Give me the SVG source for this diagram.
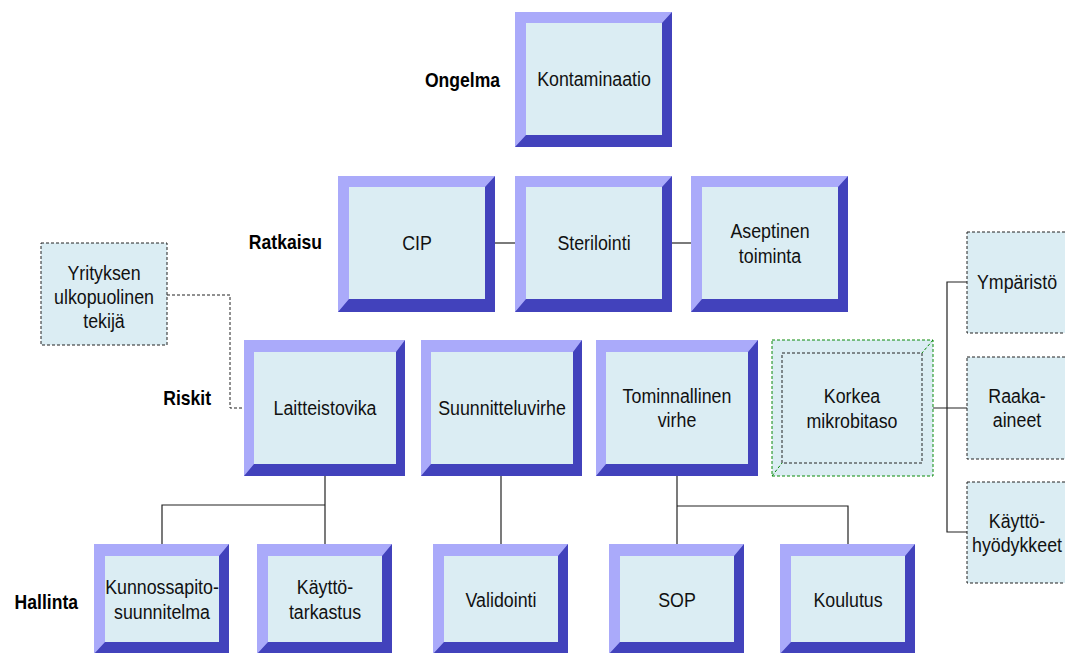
<svg xmlns="http://www.w3.org/2000/svg" width="1065" height="653" viewBox="0 0 1065 653">
<style>
.lt{fill:#AAAAFA}
.dk{fill:#4242BC}
.in{fill:#DBEDF3}
.t{font-family:"Liberation Sans",Arial,sans-serif;font-size:20px;fill:#111;text-anchor:middle}
.lb{font-family:"Liberation Sans",Arial,sans-serif;font-size:19.5px;font-weight:bold;fill:#000;text-anchor:end}
.ds{fill:#DBEDF3;stroke:#222;stroke-width:1;stroke-dasharray:3 2}
.c{fill:none;stroke:#222;stroke-width:1.2}
.cd{fill:none;stroke:#222;stroke-width:1;stroke-dasharray:3 2}
.g{stroke:#0A8A0A;stroke-width:1;stroke-dasharray:3 2}
</style>
<rect width="1065" height="653" fill="#fff"/>
<g id="labels">
<text class="lb" transform="translate(500,87) scale(0.9,1)">Ongelma</text>
<text class="lb" transform="translate(322,249) scale(0.9,1)">Ratkaisu</text>
<text class="lb" transform="translate(211,405) scale(0.9,1)">Riskit</text>
<text class="lb" transform="translate(78,609) scale(0.9,1)">Hallinta</text>
</g>
<g id="connectors">
<line class="c" x1="495" y1="243" x2="515" y2="243" stroke="#555"/>
<line class="c" x1="672" y1="243" x2="691" y2="243"/>
<polyline class="c" points="325,476 325,544"/>
<polyline class="c" points="325,505 162,505 162,544"/>
<polyline class="c" points="501,476 501,544"/>
<polyline class="c" points="677,476 677,544"/>
<polyline class="c" points="677,506 848,506 848,544"/>
<polyline class="cd" points="167,295 230,295 230,408 244,408"/>
<polyline class="c" points="933,408 967,408"/>
<polyline class="c" points="967,282 947,282 947,532 967,532"/>
</g>
<g id="n-kontaminaatio">
<rect class="lt" x="515" y="12" width="157" height="135"/>
<polygon class="dk" points="672,12 672,147 515,147 526,135 662,135 662,23"/>
<rect class="in" x="526" y="23" width="136" height="112"/>
<text class="t" transform="translate(594,86) scale(0.89,1)">Kontaminaatio</text>
</g>
<g id="n-cip">
<rect class="lt" x="338" y="176" width="157" height="136"/>
<polygon class="dk" points="495,176 495,312 338,312 349,299 485,299 485,187"/>
<rect class="in" x="349" y="187" width="136" height="112"/>
<text class="t" transform="translate(417,250) scale(0.89,1)">CIP</text>
</g>
<g id="n-sterilointi">
<rect class="lt" x="515" y="176" width="157" height="136"/>
<polygon class="dk" points="672,176 672,312 515,312 526,299 662,299 662,187"/>
<rect class="in" x="526" y="187" width="136" height="112"/>
<text class="t" transform="translate(594,250) scale(0.89,1)">Sterilointi</text>
</g>
<g id="n-aseptinen">
<rect class="lt" x="691" y="176" width="157" height="136"/>
<polygon class="dk" points="848,176 848,312 691,312 702,299 838,299 838,187"/>
<rect class="in" x="702" y="187" width="136" height="112"/>
<text class="t" transform="translate(770,238) scale(0.89,1)">Aseptinen<tspan x="0" dy="25">toiminta</tspan></text>
</g>
<g id="n-laitteistovika">
<rect class="lt" x="244" y="340" width="161" height="136"/>
<polygon class="dk" points="405,340 405,476 244,476 254,464 396,464 396,352"/>
<rect class="in" x="254" y="352" width="142" height="112"/>
<text class="t" transform="translate(325,415) scale(0.89,1)">Laitteistovika</text>
</g>
<g id="n-suunnitteluvirhe">
<rect class="lt" x="421" y="340" width="161" height="136"/>
<polygon class="dk" points="582,340 582,476 421,476 431,464 573,464 573,352"/>
<rect class="in" x="431" y="352" width="142" height="112"/>
<text class="t" transform="translate(502,415) scale(0.89,1)">Suunnitteluvirhe</text>
</g>
<g id="n-toiminnallinen">
<rect class="lt" x="596" y="340" width="162" height="136"/>
<polygon class="dk" points="758,340 758,476 596,476 606,464 748,464 748,352"/>
<rect class="in" x="606" y="352" width="142" height="112"/>
<text class="t" transform="translate(677,403) scale(0.89,1)">Tominnallinen<tspan x="0" dy="24">virhe</tspan></text>
</g>
<g id="n-korkea">
<rect x="772" y="340" width="161" height="136" fill="#DBEDF3" class="g"/>
<line x1="933" y1="340" x2="922" y2="353" class="g"/>
<line x1="772" y1="476" x2="782" y2="463" class="g"/>
<rect x="782" y="353" width="140" height="110" fill="none" stroke="#222" stroke-width="1" stroke-dasharray="3 2"/>
<text class="t" transform="translate(852,403) scale(0.89,1)">Korkea<tspan x="0" dy="25">mikrobitaso</tspan></text>
</g>
<g id="n-yrityksen">
<rect class="ds" x="41" y="243" width="126" height="102"/>
<text class="t" transform="translate(104,280) scale(0.89,1)">Yrityksen<tspan x="0" dy="24">ulkopuolinen</tspan><tspan x="0" dy="24">tekijä</tspan></text>
</g>
<g id="n-ymparisto">
<rect class="ds" x="967" y="232" width="110" height="101"/>
<text class="t" transform="translate(1017,289) scale(0.89,1)">Ympäristö</text>
</g>
<g id="n-raaka">
<rect class="ds" x="967" y="357" width="110" height="102"/>
<text class="t" transform="translate(1017,403) scale(0.89,1)">Raaka-<tspan x="0" dy="24">aineet</tspan></text>
</g>
<g id="n-kayttohyodykkeet">
<rect class="ds" x="967" y="482" width="110" height="101"/>
<text class="t" transform="translate(1017,528) scale(0.89,1)">Käyttö-<tspan x="0" dy="24">hyödykkeet</tspan></text>
</g>
<g id="n-kunnossapito">
<rect class="lt" x="94" y="544" width="135" height="110"/>
<polygon class="dk" points="229,544 229,654 94,654 105,642 219,642 219,556"/>
<rect class="in" x="105" y="556" width="114" height="86"/>
<text class="t" transform="translate(162,594) scale(0.89,1)">Kunnossapito-<tspan x="0" dy="25">suunnitelma</tspan></text>
</g>
<g id="n-kayttotarkastus">
<rect class="lt" x="257" y="544" width="135" height="110"/>
<polygon class="dk" points="392,544 392,654 257,654 268,642 382,642 382,556"/>
<rect class="in" x="268" y="556" width="114" height="86"/>
<text class="t" transform="translate(325,594) scale(0.89,1)">Käyttö-<tspan x="0" dy="25">tarkastus</tspan></text>
</g>
<g id="n-validointi">
<rect class="lt" x="433" y="544" width="135" height="110"/>
<polygon class="dk" points="568,544 568,654 433,654 444,642 558,642 558,556"/>
<rect class="in" x="444" y="556" width="114" height="86"/>
<text class="t" transform="translate(501,607) scale(0.89,1)">Validointi</text>
</g>
<g id="n-sop">
<rect class="lt" x="609" y="544" width="135" height="110"/>
<polygon class="dk" points="744,544 744,654 609,654 620,642 734,642 734,556"/>
<rect class="in" x="620" y="556" width="114" height="86"/>
<text class="t" transform="translate(677,607) scale(0.89,1)">SOP</text>
</g>
<g id="n-koulutus">
<rect class="lt" x="780" y="544" width="135" height="110"/>
<polygon class="dk" points="915,544 915,654 780,654 791,642 905,642 905,556"/>
<rect class="in" x="791" y="556" width="114" height="86"/>
<text class="t" transform="translate(848,607) scale(0.89,1)">Koulutus</text>
</g>
</svg>
